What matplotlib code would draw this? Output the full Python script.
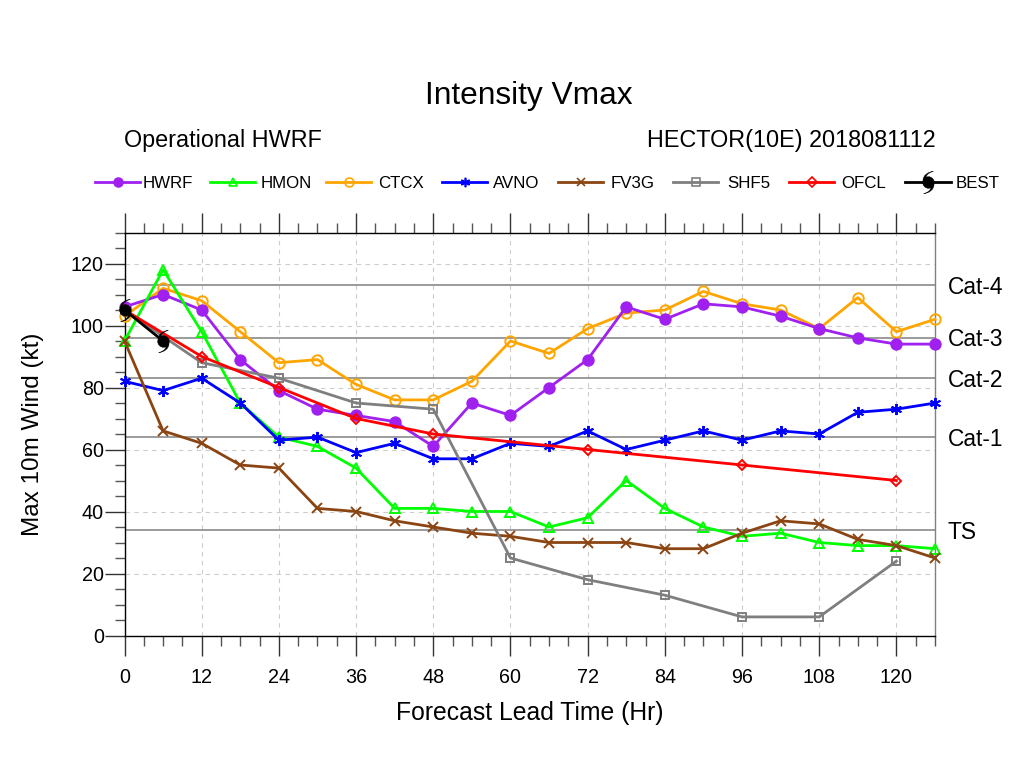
import matplotlib
matplotlib.use("Agg")
import matplotlib.pyplot as plt
from matplotlib.lines import Line2D
from matplotlib.path import Path
from matplotlib.markers import MarkerStyle
from matplotlib.ticker import MultipleLocator

plt.rcParams['font.family'] = ['Liberation Sans', 'DejaVu Sans']

hours = list(range(0, 127, 6))
hwrf = [106, 110, 105, 89, 79, 73, 71, 69, 61, 75, 71, 80, 89, 106, 102, 107, 106, 103, 99, 96, 94, 94]
hmon = [95, 118, 98, 75, 64, 61, 54, 41, 41, 40, 40, 35, 38, 50, 41, 35, 32, 33, 30, 29, 29, 28]
ctcx = [103, 112, 108, 98, 88, 89, 81, 76, 76, 82, 95, 91, 99, 104, 105, 111, 107, 105, 99, 109, 98, 102]
avno = [82, 79, 83, 75, 63, 64, 59, 62, 57, 57, 62, 61, 66, 60, 63, 66, 63, 66, 65, 72, 73, 75]
fv3g = [95, 66, 62, 55, 54, 41, 40, 37, 35, 33, 32, 30, 30, 30, 28, 28, 33, 37, 36, 31, 29, 25]

shf5_hours = [0, 12, 24, 36, 48, 60, 72, 84, 96, 108, 120]
shf5 = [105, 88, 83, 75, 73, 25, 18, 13, 6, 6, 24]
ofcl_hours = [0, 12, 24, 36, 48, 72, 96, 120]
ofcl = [105, 90, 80, 70, 65, 60, 55, 50]
best_hours = [0, 6]
best = [105, 95]

cat_levels = [34, 64, 83, 96, 113]
cat_labels = ['TS', 'Cat-1', 'Cat-2', 'Cat-3', 'Cat-4']

# hurricane symbol: filled disc with two thin curved arms
hurricane = Path(
    [(-0.55, 0), (-0.55, 0.3), (-0.3, 0.55), (0, 0.55), (0.3, 0.55), (0.55, 0.3), (0.55, 0),
     (0.55, -0.3), (0.3, -0.55), (0, -0.55), (-0.3, -0.55), (-0.55, -0.3), (-0.55, 0), (-0.55, 0),
     (-0.52, 0.2), (-0.5, 0.7), (-0.05, 1.0), (0.45, 1.05), (0.15, 0.98), (-0.25, 0.75), (-0.25, 0.4), (-0.52, 0.2),
     (0.52, -0.2), (0.5, -0.7), (0.05, -1.0), (-0.45, -1.05), (-0.15, -0.98), (0.25, -0.75), (0.25, -0.4), (0.52, -0.2)],
    [Path.MOVETO, Path.CURVE4, Path.CURVE4, Path.CURVE4, Path.CURVE4, Path.CURVE4, Path.CURVE4,
     Path.CURVE4, Path.CURVE4, Path.CURVE4, Path.CURVE4, Path.CURVE4, Path.CURVE4, Path.CLOSEPOLY,
     Path.MOVETO, Path.CURVE4, Path.CURVE4, Path.CURVE4, Path.CURVE4, Path.CURVE4, Path.CURVE4, Path.CLOSEPOLY,
     Path.MOVETO, Path.CURVE4, Path.CURVE4, Path.CURVE4, Path.CURVE4, Path.CURVE4, Path.CURVE4, Path.CLOSEPOLY])

W, H = 1024, 784
fig = plt.figure(figsize=(W / 100, H / 100), dpi=100)
ax = fig.add_axes([124.5 / W, 1 - 635.5 / H, (935 - 124.5) / W, (635.5 - 232.5) / H])
ax.set_xlim(0, 126)
ax.set_ylim(0, 130)

ax.grid(True, which='major', color='#cccccc', linestyle=(0, (4, 4)), linewidth=0.8)
ax.set_axisbelow(True)
for level in cat_levels:
    ax.axhline(level, color='#808080', linewidth=1.1, zorder=1.5)

series = [
    ('HWRF', hours, hwrf, '#a020f0', dict(marker='o', markersize=7.5, markerfacecolor='#a020f0')),
    ('HMON', hours, hmon, '#00ff00', dict(marker='^', markersize=7, markerfacecolor='none')),
    ('CTCX', hours, ctcx, '#ffa500', dict(marker='o', markersize=7.5, markerfacecolor='none')),
    ('AVNO', hours, avno, '#0000ff', dict(marker=(6, 2, 0), markersize=8)),
    ('FV3G', hours, fv3g, '#8b4513', dict(marker='x', markersize=7)),
    ('SHF5', shf5_hours, shf5, '#7f7f7f', dict(marker='s', markersize=6, markerfacecolor='none')),
    ('OFCL', ofcl_hours, ofcl, '#ff0000', dict(marker='D', markersize=5.5, markerfacecolor='none')),
]
# CTCX goes under HWRF in the original
draw_order = {'CTCX': 3.0, 'HWRF': 3.1, 'HMON': 3.2, 'AVNO': 3.3, 'FV3G': 3.4, 'SHF5': 3.5, 'OFCL': 3.6}
for name, xs, ys, color, style in series:
    ax.plot(xs, ys, color=color, linewidth=2, markeredgewidth=1.4, markeredgecolor=color,
            clip_on=False, zorder=draw_order[name], **style)
ax.plot(best_hours, best, color='black', linewidth=2, marker=MarkerStyle(hurricane),
        markersize=16, markerfacecolor='black', markeredgecolor='black', markeredgewidth=0.3,
        clip_on=False, zorder=4)

for sp in ['top', 'bottom', 'left', 'right']:
    ax.spines[sp].set_linewidth(1.0)
    ax.spines[sp].set_color('black')
ax.spines['right'].set_color('#808080')

ax.xaxis.set_major_locator(MultipleLocator(12))
ax.xaxis.set_minor_locator(MultipleLocator(3))
ax.yaxis.set_major_locator(MultipleLocator(20))
ax.yaxis.set_minor_locator(MultipleLocator(5))
ax.tick_params(axis='x', which='major', direction='out', length=14.4, width=1.0, top=True,
               labelsize=14.2, pad=9, color='#333333')
ax.tick_params(axis='x', which='minor', direction='out', length=7.2, width=1.0, top=True, color='#555555')
ax.tick_params(axis='y', which='major', direction='out', length=14.4, width=1.0, right=False,
               labelsize=14.2, pad=0.5, color='#333333')
ax.tick_params(axis='y', which='minor', direction='out', length=7.2, width=1.0, right=False, color='#555555')
ax.set_xlabel('Forecast Lead Time (Hr)', fontsize=17.8, labelpad=10)
ax.set_ylabel('Max 10m Wind (kt)', fontsize=17.5, labelpad=19)

for label, level in zip(cat_labels, cat_levels):
    ax.annotate(label, xy=(1, level), xycoords=('axes fraction', 'data'), xytext=(13, -2),
                textcoords='offset pixels', va='center', ha='left', fontsize=16.4)

fig.text(529 / W, 1 - 96 / H, 'Intensity Vmax', ha='center', va='center', fontsize=22.8)
fig.text(124 / W, 1 - 140 / H, 'Operational HWRF', ha='left', va='center', fontsize=16.8)
fig.text(936 / W, 1 - 140 / H, 'HECTOR(10E) 2018081112', ha='right', va='center', fontsize=16.8)

# hand placed legend row
legend_x = [95, 210, 326, 442, 558, 673, 789, 904.5]
legend_text_x = [143, 260.5, 378, 493, 611, 727, 841, 956]
for (name, xs, ys, color, style), x0, tx in zip(series, legend_x, legend_text_x):
    w = 45
    fig.add_artist(Line2D([x0 / W, (x0 + w) / W], [1 - 182 / H] * 2, color=color, linewidth=2))
    leg_style = dict(style)
    leg_style['markersize'] = style['markersize'] * 0.85
    fig.add_artist(Line2D([(x0 + w / 2) / W], [1 - 182 / H], color=color, markeredgecolor=color,
                          markeredgewidth=1.2, **leg_style))
    fig.text(tx / W, 1 - 183 / H, name, va='center', ha='left', fontsize=12.2)
fig.add_artist(Line2D([legend_x[-1] / W, (legend_x[-1] + 46) / W], [1 - 182 / H] * 2, color='black', linewidth=2))
fig.add_artist(Line2D([(legend_x[-1] + 23) / W], [1 - 182 / H], marker=MarkerStyle(hurricane), markersize=16,
                      markerfacecolor='black', markeredgecolor='black', markeredgewidth=0.3))
fig.text(legend_text_x[-1] / W, 1 - 183 / H, 'BEST', va='center', ha='left', fontsize=12.2)

fig.savefig('out.png', dpi=100)
